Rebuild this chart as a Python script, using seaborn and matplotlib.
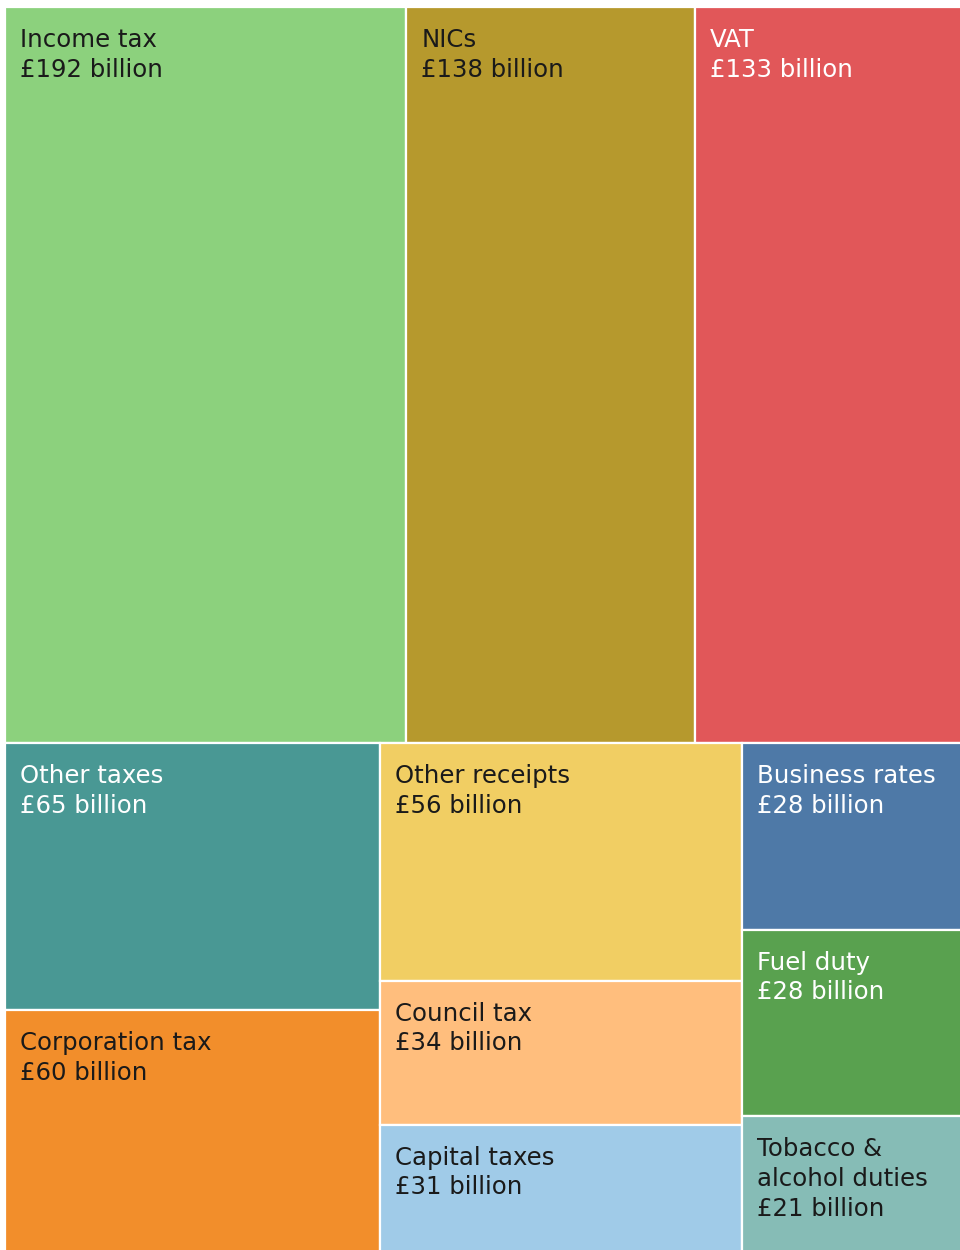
import matplotlib
matplotlib.use("Agg")
import matplotlib.pyplot as plt
import seaborn as sns

# UK public sector receipts, £ billion
names = ["Income tax", "NICs", "VAT", "Other taxes", "Corporation tax",
         "Other receipts", "Council tax", "Capital taxes", "Business rates",
         "Fuel duty", "Tobacco &\nalcohol duties"]
values = [192, 138, 133, 65, 60, 56, 34, 31, 28, 28, 21]
colors = ["#8CD17D", "#B6992D", "#E15759", "#499894", "#F28E2B",
          "#F1CE63", "#FFBE7D", "#A0CBE8", "#4E79A7", "#59A14F", "#86BCB6"]
text_colors = ["#1a1a1a", "#1a1a1a", "#ffffff", "#ffffff", "#1a1a1a",
               "#1a1a1a", "#1a1a1a", "#1a1a1a", "#ffffff", "#ffffff", "#1a1a1a"]

PHI = (1 + 5 ** 0.5) / 2


def squarify(vals, x0, y0, x1, y1, ratio=PHI):
    """Squarified treemap layout (d3-style); y grows downward."""
    rects = []
    n = len(vals)
    total = float(sum(vals))
    i0 = i1 = 0
    while i0 < n:
        dx, dy = x1 - x0, y1 - y0
        s = vals[i1]
        i1 += 1
        vmin = vmax = s
        alpha = max(dy / dx, dx / dy) / (total * ratio)
        beta = s * s * alpha
        best = max(vmax / beta, beta / vmin)
        while i1 < n:
            v = vals[i1]
            s2 = s + v
            mn, mx = min(vmin, v), max(vmax, v)
            beta = s2 * s2 * alpha
            r = max(mx / beta, beta / mn)
            if r > best:
                break
            s, vmin, vmax, best = s2, mn, mx, r
            i1 += 1
        row = vals[i0:i1]
        if dx < dy:
            # horizontal strip across the top
            yb = y0 + dy * s / total
            xc = x0
            for v in row:
                w = dx * v / s
                rects.append((xc, y0, xc + w, yb))
                xc += w
            y0 = yb
        else:
            # vertical strip along the left
            xb = x0 + dx * s / total
            yc = y0
            for v in row:
                h = dy * v / s
                rects.append((x0, yc, xb, yc + h))
                yc += h
            x0 = xb
        total -= s
        i0 = i1
    return rects


sns.set_theme(style="white")
plt.rcParams["font.family"] = ["DejaVu Sans"]

# treemap canvas runs slightly past the right and bottom edges of the figure
FW, FH = 960.0, 1250.0
W, H = 968.0, 1249.5
left, top = 5.0, 7.0
fig = plt.figure(figsize=(FW / 100, FH / 100), dpi=100)
ax = fig.add_axes([left / FW, (FH - top - H) / FH, W / FW, H / FH])
ax.set_xlim(0, W)
ax.set_ylim(H, 0)
ax.axis("off")

rects = squarify(values, 0, 0, W, H)
for (x0, y0, x1, y1), name, val, c, tc in zip(rects, names, values, colors, text_colors):
    ax.bar(x0, y1 - y0, width=x1 - x0, bottom=y0, align="edge",
           color=c, edgecolor="white", linewidth=1.6, clip_on=False)
    ax.annotate(f"{name}\n£{val} billion", xy=(x0, y0), xytext=(10.8, -15),
                textcoords="offset points", ha="left", va="top",
                fontsize=17.6, color=tc, linespacing=1.3)

fig.savefig("out.png", dpi=100, facecolor="white")
